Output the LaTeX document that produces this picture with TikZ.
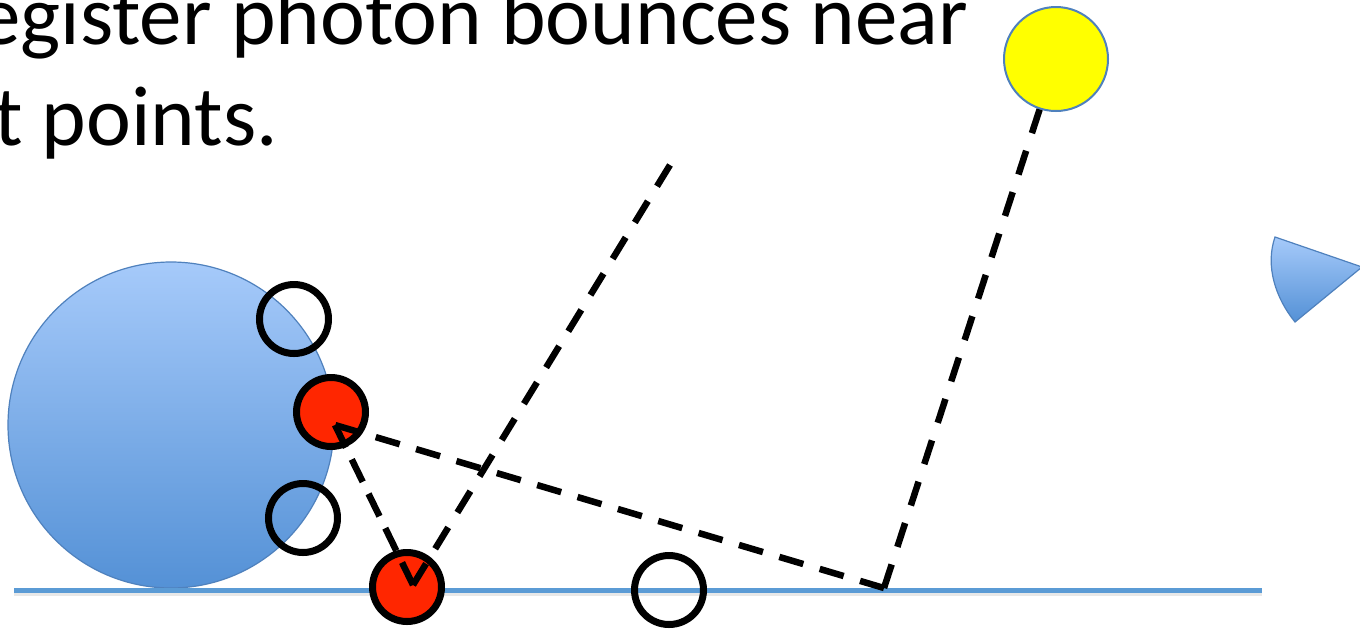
\documentclass[tikz,border=0pt]{standalone}
\usepackage{fontspec}
\setmainfont{Carlito}
\definecolor{floorblue}{RGB}{91,155,213}
\definecolor{edgeblue}{RGB}{79,129,189}
\definecolor{lightblue}{RGB}{166,202,250}
\definecolor{darkblue}{RGB}{84,145,214}
\definecolor{hotred}{RGB}{255,38,0}
\definecolor{sunyellow}{RGB}{255,255,0}
\begin{document}
\begin{tikzpicture}[x=1pt,y=-1pt,
  ring/.style={circle,draw=black,line width=7pt,minimum size=69pt,inner sep=0pt},
  redring/.style={ring,fill=hotred},
  sunstyle/.style={circle,draw=edgeblue,line width=2pt,fill=sunyellow,minimum size=104pt,inner sep=0pt},
  ballstyle/.style={circle,draw=edgeblue,line width=1.2pt,top color=lightblue,bottom color=darkblue,minimum size=326pt,inner sep=0pt},
  dashline/.style={line width=6.5pt,dash pattern=on 25pt off #1pt},
  floorline/.style={draw=floorblue,line width=5pt},
  floorshadow/.style={draw=black!9,line width=6pt},
  bigtext/.style={anchor=base west,inner sep=0pt,font=\fontsize{85}{100}\selectfont}
]
\useasboundingbox (0,0) rectangle (1360,630);
\clip (0,0) rectangle (1360,630);
\fill[white] (0,0) rectangle (1360,630);

% text
\node[bigtext] (line1) at (-22,44) {egister photon bounces near};
\node[bigtext] (line2) at (-6,145) {t points.};

% big ball
\node[ballstyle] (ball) at (171,425) {};

% floor
\coordinate (fl) at (14,590);
\coordinate (fr) at (1262,590);
\draw[floorshadow] ([yshift=-3pt]fl) -- ([yshift=-3pt]fr);
\draw[floorline] (fl) -- (fr);

% wedge (camera)
\coordinate (apex) at (1362,267);
\coordinate (wtop) at (1275,237);
\coordinate (wbot) at (1295,322);
\draw[draw=edgeblue,line width=1.2pt,top color=lightblue,bottom color=darkblue]
  (apex) -- (wtop) .. controls (1265,266) and (1275.5,298) .. (wbot) -- cycle;

% light
\node[sunstyle] (sun) at (1056,59) {};

% sample circles
\node[ring] (o1) at (294,319) {};
\node[redring] (r1) at (331,412) {};
\node[ring] (o2) at (303,518) {};
\node[redring] (r2) at (407,587) {};
\node[ring] (o3) at (669,590) {};

% photon paths
\coordinate (F) at (884,588);
\coordinate (P) at (335,425);
\coordinate (Q) at (413,585);
\coordinate (T) at (670,165);
\draw[dashline=18.5] (sun) -- (F);
\draw[dashline=17.1] (F) -- (P);
\draw[dashline=13.25] (P) -- (Q);
\draw[dashline=17.5] (Q) -- (T);
\end{tikzpicture}
\end{document}
